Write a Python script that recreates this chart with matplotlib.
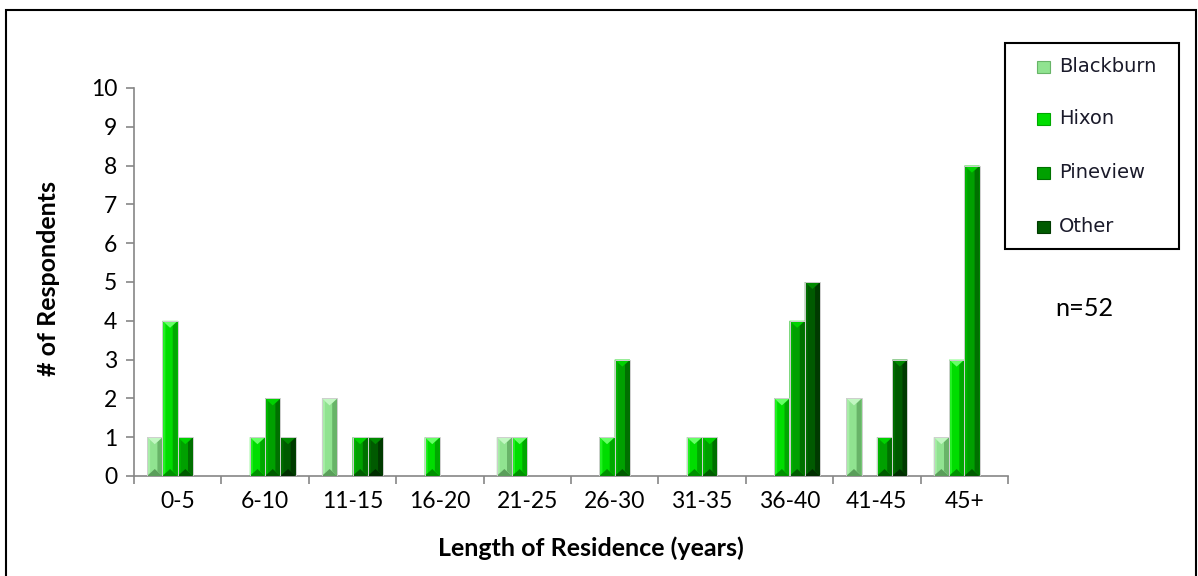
import matplotlib
matplotlib.use("Agg")
import matplotlib.pyplot as plt
from matplotlib.patches import Polygon, Rectangle
import numpy as np

# Survey counts by length of residence
categories = ["0-5", "6-10", "11-15", "16-20", "21-25", "26-30", "31-35", "36-40", "41-45", "45+"]
blackburn = [1, 0, 2, 0, 1, 0, 0, 0, 2, 1]
hixon     = [4, 1, 0, 1, 1, 1, 1, 2, 0, 3]
pineview  = [1, 2, 1, 0, 0, 3, 1, 4, 1, 8]
other     = [0, 1, 1, 0, 0, 0, 0, 5, 3, 0]
series_names = ["Blackburn", "Hixon", "Pineview", "Other"]
sample_note = "n=52"

# face, top facet, left facet, right facet, bottom facet for each series
palette = {
    "Blackburn": ("#90e390", "#c2f7c2", "#a8eda8", "#68b468", "#5a9e5a"),
    "Hixon":     ("#00dd00", "#66ff66", "#22f022", "#00a800", "#009000"),
    "Pineview":  ("#00a000", "#00d200", "#00b400", "#007000", "#005c00"),
    "Other":     ("#005a00", "#008a00", "#006c00", "#003a00", "#002e00"),
}

W, H = 1198, 576
fig = plt.figure(figsize=(W / 100, H / 100), dpi=100)
ax = fig.add_axes([134 / W, 1 - 476 / H, 874 / W, 388 / H])

n_cat = len(categories)
x = np.arange(n_cat)
bar_w = 0.175
values = [blackburn, hixon, pineview, other]

ax.set_xlim(-0.5, n_cat - 0.5)
ax.set_ylim(0, 10)

# pixel -> data scale for bevel facets
p0 = ax.transData.transform((0, 0))
p1 = ax.transData.transform((1, 1))
px_x = 1.0 / (p1[0] - p0[0])
px_y = 1.0 / (p1[1] - p0[1])

for i, (name, vals) in enumerate(zip(series_names, values)):
    face, top, left, right, bottom = palette[name]
    offs = (i - 1.5) * bar_w
    bars = ax.bar(x + offs, vals, width=bar_w, color=face,
                  edgecolor="none", linewidth=0, zorder=2)
    for rect, v in zip(bars, vals):
        if v <= 0:
            continue
        x0 = rect.get_x()
        x1 = x0 + rect.get_width()
        y0 = 0.0
        y1 = v
        xc = (x0 + x1) / 2
        sl = 3.0
        sr = 5.0
        th = 7.0 * px_y
        # side facets
        ax.add_patch(Polygon([(x0, y0), (x0 + sl * px_x, y0 + sl * px_y),
                              (x0 + sl * px_x, y1 - sl * px_y), (x0, y1)],
                             closed=True, facecolor=left, edgecolor="none", zorder=3))
        ax.add_patch(Polygon([(x1, y0), (x1 - sr * px_x, y0 + sr * px_y),
                              (x1 - sr * px_x, y1 - sr * px_y), (x1, y1)],
                             closed=True, facecolor=right, edgecolor="none", zorder=3))
        # top and bottom chevrons
        ax.add_patch(Polygon([(x0, y1), (x1, y1), (xc, y1 - th)], closed=True,
                             facecolor=top, edgecolor="none", zorder=4))
        ax.add_patch(Polygon([(x0, y0), (x1, y0), (xc, y0 + th)], closed=True,
                             facecolor=bottom, edgecolor="none", zorder=4))
        ax.add_patch(Rectangle((x0, y0), x1 - x0, y1 - y0, facecolor="none",
                               edgecolor="#cfcfcf", linewidth=0.7, zorder=5))

# axes styling
axis_grey = "#868686"
for side in ("top", "right"):
    ax.spines[side].set_visible(False)
for side in ("left", "bottom"):
    ax.spines[side].set_color(axis_grey)
    ax.spines[side].set_linewidth(1.2)

ax.set_yticks(range(0, 11))
ax.set_xticks(np.arange(-0.5, n_cat, 1.0))
ax.set_xticklabels([])
ax.set_xticks(x, minor=True)
ax.set_xticklabels(categories, minor=True)
ax.tick_params(axis="x", which="major", length=6, width=1.2, color=axis_grey, direction="out")
ax.tick_params(axis="x", which="minor", length=0, pad=11)
ax.tick_params(axis="y", length=6, width=1.2, color=axis_grey, direction="out", pad=6)

for lab in ax.get_xticklabels(minor=True) + ax.get_yticklabels():
    lab.set_fontfamily("Lato")
    lab.set_fontsize(16.5)

fig.text(591 / W, 1 - 548 / H, "Length of Residence (years)", family="Lato",
         weight="bold", size=18, ha="center", va="center")
fig.text(49 / W, 1 - 279 / H, "# of Respondents", family="Lato",
         weight="bold", size=18, ha="center", va="center", rotation=90)
fig.text(1084 / W, 1 - 308 / H, sample_note, family="Lato", size=18.2,
         ha="center", va="center")

# legend box
fig.add_artist(Rectangle((1005 / W, 1 - 249 / H), 174 / W, 206 / H,
                         transform=fig.transFigure, facecolor="white",
                         edgecolor="black", linewidth=1.5))
row_y = [67, 119, 173, 227]
for name, ry in zip(series_names, row_y):
    face, top, left, right, bottom = palette[name]
    fig.add_artist(Rectangle((1037 / W, 1 - (ry + 6) / H), 13 / W, 12 / H,
                             transform=fig.transFigure, facecolor=face,
                             edgecolor=right, linewidth=0.8))
    fig.text(1059 / W, 1 - ry / H, name, family="DejaVu Sans", size=14,
             color="#1a1a2a", ha="left", va="center")

# outer chart border
fig.add_artist(Rectangle((6 / W, -0.05), 1190 / W, 1 - 10 / H + 0.05,
                         transform=fig.transFigure, facecolor="none",
                         edgecolor="black", linewidth=1.5))

fig.savefig("out.png", dpi=100)
